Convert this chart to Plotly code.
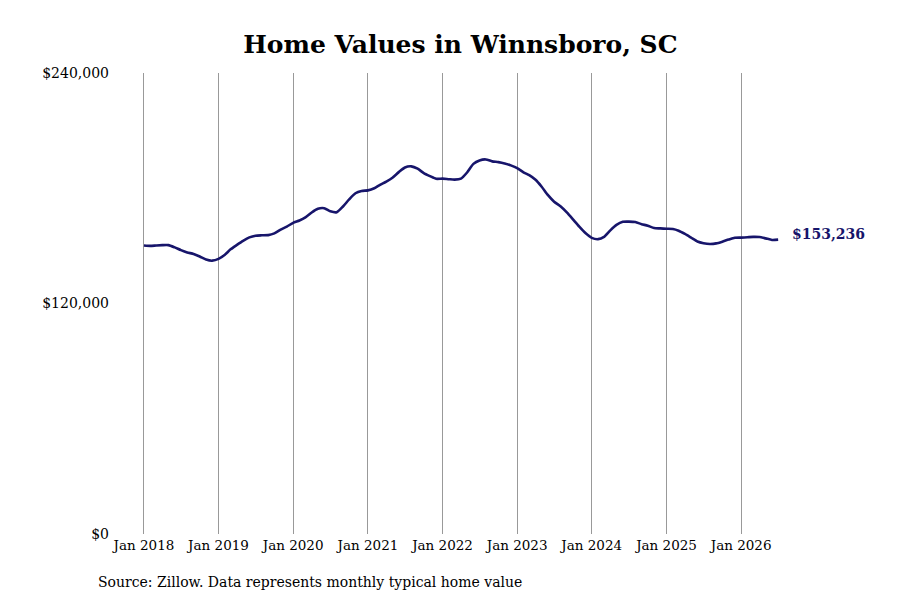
import plotly.graph_objects as go
import pandas as pd

# Monthly typical home values, Jan 2018 .. Jul 2026
start_month = "2018-01-01"
values = [
    150200, 150000, 150200, 150400, 150400, 149200, 147800, 146600, 145800, 144500, 142900, 142300,
    143200, 145400, 148200, 150500, 152600, 154400, 155300, 155500, 155600, 156500, 158500, 160000,
    162000, 163200, 164800, 167400, 169300, 169600, 168000, 167500, 170500, 174200, 177400, 178600,
    178900, 180000, 181800, 183500, 185500, 188400, 190800, 191400, 190200, 187900, 186300, 184900,
    185000, 184700, 184500, 185000, 188200, 192700, 194500, 195000, 194000, 193600, 192900, 191900,
    190500, 188300, 186800, 184400, 180800, 176400, 173000, 170600, 167400, 163800, 160000, 156700,
    154200, 153500, 154700, 158100, 160900, 162500, 162600, 162400, 161300, 160500, 159300, 159100,
    158900, 158800, 157900, 156200, 154300, 152300, 151400, 151000, 151300, 152200, 153300, 154200,
    154300, 154500, 154700, 154600, 153900, 153100, 153236,
]
dates = pd.date_range(start_month, periods=len(values), freq="MS")

x_ticks = [f"{y}-01-01" for y in range(2018, 2027)]
x_tick_labels = [f"Jan {y}" for y in range(2018, 2027)]
y_ticks = [0, 120000, 240000]
y_tick_labels = ["$0", "$120,000", "$240,000"]

title_text = "Home Values in Winnsboro, SC"
source_text = "Source: Zillow. Data represents monthly typical home value"
last_label = f"${values[-1]:,}"

navy = "#17156b"
font_family = "DejaVu Serif"

fig = go.Figure()
fig.add_trace(go.Scatter(
    x=dates, y=values, mode="lines",
    line=dict(color=navy, width=2.6, shape="spline", smoothing=0.6),
    hoverinfo="skip", showlegend=False,
))

fig.add_annotation(
    x=dates[-1], y=values[-1], xref="x", yref="y",
    text=f"<b>{last_label}</b>", showarrow=False,
    xanchor="left", yanchor="middle", xshift=12, yshift=6,
    font=dict(family=font_family, size=14, color=navy),
)
fig.add_annotation(
    x=-0.0206, y=0.0, xref="paper", yref="paper",
    text=source_text, showarrow=False,
    xanchor="left", yanchor="middle", yshift=-48,
    font=dict(family=font_family, size=14, color="#000000"),
)

fig.update_layout(
    width=900, height=600,
    paper_bgcolor="white", plot_bgcolor="white",
    margin=dict(l=102, r=118, t=65, b=74),
    font=dict(family=font_family, size=14, color="#000000"),
    title=dict(
        text=f"<b>{title_text}</b>", x=0.5153, xanchor="center",
        y=0.94, yanchor="middle", xref="paper", yref="container",
        font=dict(family=font_family, size=25, color="#000000"),
    ),
    xaxis=dict(
        range=["2017-07-19", "2026-08-28"],
        tickvals=x_ticks, ticktext=x_tick_labels,
        showgrid=True, gridcolor="#999999", gridwidth=1,
        showline=False, zeroline=False, ticks="",
        ticklabelstandoff=1,
        tickfont=dict(family=font_family, size=13.5),
    ),
    yaxis=dict(
        range=[0, 240000], tickvals=y_ticks, ticktext=y_tick_labels,
        showgrid=False, zeroline=False, showline=False, ticks="",
        tickfont=dict(family=font_family, size=14),
    ),
)

fig.write_html("out.html")
